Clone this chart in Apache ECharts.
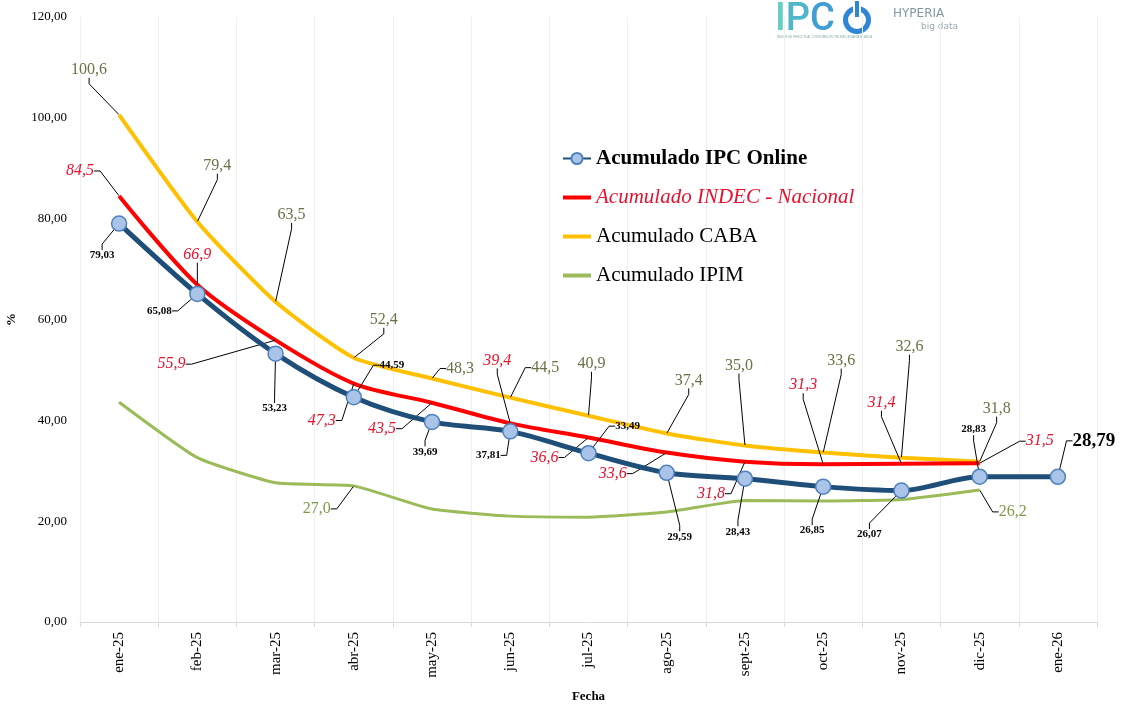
<!DOCTYPE html>
<html>
<head>
<meta charset="utf-8">
<script src="https://cdn.jsdelivr.net/npm/echarts@6/dist/echarts.min.js"></script>
<style>
  html, body { margin: 0; padding: 0; background: #fff; }
  #main { width: 1128px; height: 704px; }
</style>
</head>
<body>
<div id="main"></div>
<script>
var meses = ['ene-25', 'feb-25', 'mar-25', 'abr-25', 'may-25', 'jun-25', 'jul-25',
  'ago-25', 'sept-25', 'oct-25', 'nov-25', 'dic-25', 'ene-26'];
var ipcOnline = [79.03, 65.08, 53.23, 44.59, 39.69, 37.81, 33.49, 29.59, 28.43, 26.85, 26.07, 28.83, 28.79];
var indec = [84.5, 66.9, 55.9, 47.3, 43.5, 39.4, 36.6, 33.6, 31.8, 31.3, 31.4, 31.5];
var caba = [100.6, 79.4, 63.5, 52.4, 48.3, 44.5, 40.9, 37.4, 35.0, 33.6, 32.6, 31.8];
var ipim = [43.6, 32.6, 27.6, 27.0, 22.4, 21.0, 20.8, 21.8, 24.1, 24.0, 24.3, 26.2];
var ipimEtiquetas = [3, 11];
var yTicks = [0, 20, 40, 60, 80, 100, 120];

// desplazamiento de cada etiqueta respecto de su punto [dx, dy]
var offsets = [
  [[-17, 32], [-38, 17], [-1, 55], [38, -32], [-7, 30], [-22, 24], [39, -27],
   [13, 64], [-7, 53], [-11, 44], [-32, 44], [-6, -47], [36, -36]],
  [[-39, -25], [0, -30], [-104, 24], [-32, 37], [-50, 26], [-13, -63], [-44, 20],
   [-54, 21], [-34, 32], [-20, -79], [-20, -61], [60, -22]],
  [[-30, -45], [20, -56], [16, -87], [30, -38], [28, -10], [35, -30], [3, -52],
   [22, -53], [-6, -80], [18, -92], [8, -111], [17, -53]],
  [[0, 0], [0, 0], [0, 0], [-37, 23], [0, 0], [0, 0], [0, 0],
   [0, 0], [0, 0], [0, 0], [0, 0], [33, 22]]
];

function coma(v, d) {
  return v.toFixed(d).replace('.', ',');
}

var serif = 'Liberation Serif';
var chart = echarts.init(document.getElementById('main'));

var labelLine = { show: true, length2: 6, lineStyle: { color: '#000', width: 1 } };
// icono plano para que la leyenda muestre sólo la línea
var barra = 'path://M0,0H28V4H0Z';

var ipcData = ipcOnline.map(function (v, i) {
  if (i === ipcOnline.length - 1) {
    return { value: v, label: { fontSize: 19 } };
  }
  return v;
});
var ipimData = ipim.map(function (v, i) {
  var show = ipimEtiquetas.indexOf(i) >= 0;
  return { value: v, label: { show: show }, labelLine: { show: show } };
});

var option = {
  animation: false,
  grid: { left: 80, right: 31, top: 17, bottom: 82, outerBoundsMode: 'none', containLabel: false },
  legend: {
    orient: 'vertical',
    left: 557,
    top: 143,
    itemGap: 18,
    itemWidth: 28,
    itemHeight: 14,
    textStyle: { fontFamily: serif, fontSize: 21, color: '#000' },
    data: [
      { name: 'Acumulado IPC Online', textStyle: { fontWeight: 'bold' } },
      { name: 'Acumulado INDEC - Nacional', icon: barra, textStyle: { color: '#e8112d', fontStyle: 'italic' } },
      { name: 'Acumulado CABA', icon: barra },
      { name: 'Acumulado IPIM', icon: barra }
    ]
  },
  xAxis: {
    type: 'category',
    data: meses,
    boundaryGap: true,
    name: 'Fecha',
    nameLocation: 'middle',
    nameGap: 68,
    nameTextStyle: { fontFamily: serif, fontSize: 13, fontWeight: 'bold', color: '#000' },
    axisLine: { lineStyle: { color: '#d9d9d9' } },
    axisTick: { show: true, length: 5, lineStyle: { color: '#d9d9d9' } },
    axisLabel: { rotate: 90, fontFamily: serif, fontSize: 15, color: '#000', margin: 10 },
    splitLine: { show: true, lineStyle: { color: '#efefef' } }
  },
  yAxis: {
    type: 'value',
    min: yTicks[0],
    max: yTicks[yTicks.length - 1],
    interval: 20,
    name: '%',
    nameLocation: 'middle',
    nameGap: 62,
    nameTextStyle: { fontFamily: serif, fontSize: 13, fontWeight: 'bold', color: '#000' },
    axisLine: { show: false },
    axisTick: { show: false },
    splitLine: { show: false },
    axisLabel: {
      fontFamily: serif, fontSize: 13, color: '#000', margin: 13,
      formatter: function (v) { return coma(v, 2); }
    }
  },
  graphic: [
    {
      type: 'text', left: 775, top: 1,
      style: {
        text: '{a|I}{b|P}{c|C}',
        rich: {
          a: { fontFamily: 'Roboto', fontSize: 38, fontWeight: 500, fill: '#5fcfc2' },
          b: { fontFamily: 'Roboto', fontSize: 38, fontWeight: 500, fill: '#4fb6cc' },
          c: { fontFamily: 'Roboto', fontSize: 38, fontWeight: 500, fill: '#3f9ed6' }
        }
      }
    },
    {
      type: 'ring', shape: { cx: 857, cy: 20, r: 14, r0: 9 },
      style: { fill: '#2f86d4' }
    },
    {
      type: 'rect', shape: { x: 853, y: 0, width: 8, height: 19 },
      style: { fill: '#fff' }
    },
    {
      type: 'rect', shape: { x: 855, y: 1, width: 4, height: 16 },
      style: { fill: '#2f86d4' }
    },
    {
      type: 'text', left: 777, top: 36,
      style: { text: 'INDICE DE PRECIOS AL CONSUMIDOR ONLINE DE BAHIA BLANCA', fontSize: 3, fill: '#8aa' }
    },
    {
      type: 'text', left: 893, top: 8,
      style: { text: 'HYPERIA', fontFamily: 'DejaVu Sans', fontSize: 12, fill: '#7f9aa3' }
    },
    {
      type: 'text', left: 921, top: 22,
      style: { text: 'big data', fontFamily: 'DejaVu Sans', fontSize: 9, fill: '#9aaab0' }
    }
  ],
  series: [
    {
      name: 'Acumulado IPC Online',
      type: 'line',
      data: ipcData,
      z: 5,
      smooth: 0.3,
      symbol: 'circle',
      symbolSize: 15,
      showAllSymbol: true,
      lineStyle: { color: '#1f4e79', width: 5 },
      itemStyle: { color: '#a9c4e8', borderColor: '#4f81bd', borderWidth: 1.5 },
      label: {
        show: true, position: 'inside', fontFamily: serif, fontSize: 11,
        fontWeight: 'bold', color: '#000',
        formatter: function (p) { return coma(p.value, 2); }
      },
      labelLine: labelLine,
      labelLayout: function (p) {
        var o = offsets[0][p.dataIndex];
        return { dx: o[0], dy: o[1] };
      }
    },
    {
      name: 'Acumulado INDEC - Nacional',
      type: 'line',
      data: indec,
      z: 4,
      smooth: 0.3,
      symbol: 'circle',
      symbolSize: 1,
      lineStyle: { color: '#ff0000', width: 4 },
      itemStyle: { color: '#ff0000' },
      label: {
        show: true, position: 'inside', fontFamily: serif, fontSize: 16,
        fontStyle: 'italic', color: '#e8112d',
        formatter: function (p) { return coma(p.value, 1); }
      },
      labelLine: labelLine,
      labelLayout: function (p) {
        var o = offsets[1][p.dataIndex];
        return { dx: o[0], dy: o[1] };
      }
    },
    {
      name: 'Acumulado CABA',
      type: 'line',
      data: caba,
      z: 3,
      smooth: 0.2,
      symbol: 'circle',
      symbolSize: 1,
      lineStyle: { color: '#ffc000', width: 4 },
      itemStyle: { color: '#ffc000' },
      label: {
        show: true, position: 'inside', fontFamily: serif, fontSize: 16,
        color: '#6b7147',
        formatter: function (p) { return coma(p.value, 1); }
      },
      labelLine: labelLine,
      labelLayout: function (p) {
        var o = offsets[2][p.dataIndex];
        return { dx: o[0], dy: o[1] };
      }
    },
    {
      name: 'Acumulado IPIM',
      type: 'line',
      data: ipimData,
      z: 2,
      smooth: 0.15,
      symbol: 'circle',
      symbolSize: 1,
      lineStyle: { color: '#9bbb59', width: 3 },
      itemStyle: { color: '#9bbb59' },
      label: {
        show: true, position: 'inside', fontFamily: serif, fontSize: 16,
        color: '#7f9a4a',
        formatter: function (p) { return coma(p.value, 1); }
      },
      labelLine: labelLine,
      labelLayout: function (p) {
        var o = offsets[3][p.dataIndex];
        return { dx: o[0], dy: o[1] };
      }
    }
  ]
};

chart.setOption(option);
</script>
</body>
</html>
